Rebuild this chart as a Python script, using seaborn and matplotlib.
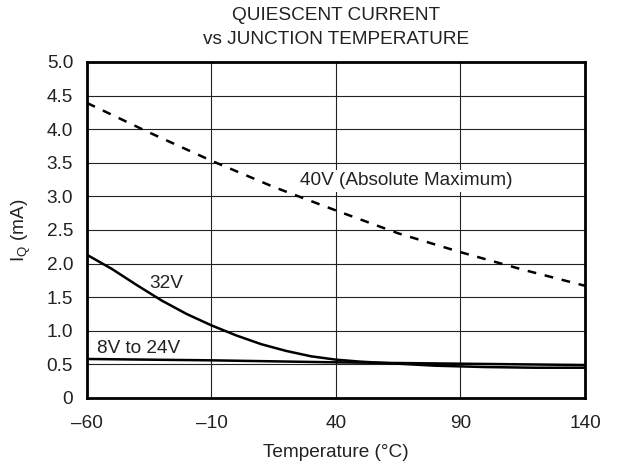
import pandas as pd
import matplotlib.pyplot as plt
import seaborn as sns

# readings from the reference chart
temp_40v = [-60, -35, -10, 15, 40, 65, 90, 115, 140]
iq_40v = [4.39, 3.95, 3.53, 3.14, 2.79, 2.45, 2.17, 1.91, 1.67]

temp_32v = [-60, -50, -40, -30, -20, -10, 0, 10, 20, 30, 40, 50, 60, 70, 80, 90, 100, 110, 120, 130, 140]
iq_32v = [2.13, 1.92, 1.68, 1.45, 1.25, 1.08, 0.93, 0.80, 0.70, 0.62, 0.57, 0.54, 0.52, 0.50,
          0.48, 0.47, 0.46, 0.455, 0.45, 0.45, 0.45]

temp_24v = [-60, -10, 40, 90, 140]
iq_24v = [0.58, 0.56, 0.53, 0.51, 0.49]

x_ticks = [-60, -10, 40, 90, 140]
x_labels = ["\u201360", "\u201310", "40", "90", "140"]
y_ticks = [0, 0.5, 1.0, 1.5, 2.0, 2.5, 3.0, 3.5, 4.0, 4.5, 5.0]
y_labels = ["0", "0.5", "1.0", "1.5", "2.0", "2.5", "3.0", "3.5", "4.0", "4.5", "5.0"]

sns.set_style("white")
plt.rcParams['font.family'] = ['Liberation Sans', 'DejaVu Sans']

fig, ax = plt.subplots(figsize=(6.17, 4.66), dpi=100)
fig.subplots_adjust(left=0.141, right=0.948, top=0.867, bottom=0.146)

df40 = pd.DataFrame({'t': temp_40v, 'iq': iq_40v})
df32 = pd.DataFrame({'t': temp_32v, 'iq': iq_32v})
df24 = pd.DataFrame({'t': temp_24v, 'iq': iq_24v})

sns.lineplot(data=df40, x='t', y='iq', ax=ax, color='black', lw=1.8, linestyle=(0, (3.5, 3.5)))
sns.lineplot(data=df32, x='t', y='iq', ax=ax, color='black', lw=1.8)
sns.lineplot(data=df24, x='t', y='iq', ax=ax, color='black', lw=1.8)

fs = 13.7
ax.set_xlim(-60, 140)
ax.set_ylim(0, 5.0)
ax.set_xticks(x_ticks)
ax.set_xticklabels(x_labels)
ax.set_yticks(y_ticks)
ax.set_yticklabels(y_labels)
ax.tick_params(axis='x', length=0, labelsize=fs, pad=12, colors='#222222')
ax.tick_params(axis='y', length=0, labelsize=fs, pad=10, colors='#222222')
ax.grid(True, color='#222222', lw=0.8)
ax.set_axisbelow(True)
for s in ax.spines.values():
    s.set_visible(True)
    s.set_color('black')
    s.set_linewidth(2.0)

ax.set_xlabel("Temperature (\u00b0C)", fontsize=fs, color='#222222', labelpad=9)
ax.set_ylabel("I$_\\mathregular{Q}$ (mA)", fontsize=fs, color='#222222', labelpad=10)
ax.set_title("QUIESCENT CURRENT\nvs JUNCTION TEMPERATURE", fontsize=fs, color='#222222',
             pad=13, linespacing=1.5)

ax.text(25.5, 3.23, "40V (Absolute Maximum)", fontsize=fs, color='#222222', va='center',
        bbox=dict(facecolor='white', edgecolor='none', pad=2))
ax.text(-35, 1.71, "32V", fontsize=fs, color='#222222', va='center')
ax.text(-56, 0.74, "8V to 24V", fontsize=fs, color='#222222', va='center')

plt.savefig("out.png", dpi=100)
